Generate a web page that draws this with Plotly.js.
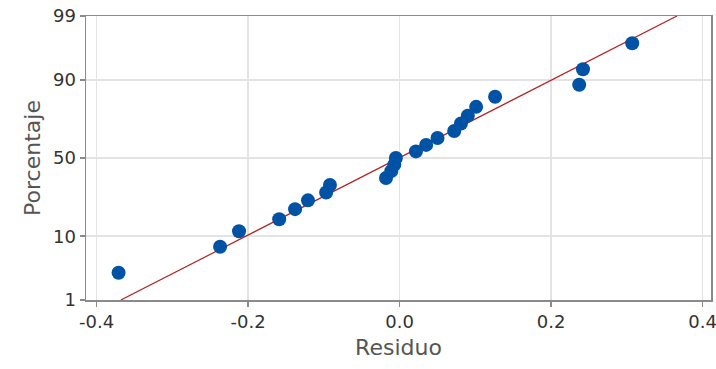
<!DOCTYPE html>
<html>
<head>
<meta charset="utf-8">
<script src="https://cdn.plot.ly/plotly-3.0.1.min.js"></script>
<style>html,body{margin:0;padding:0;background:#fff}#chart{width:716px;height:369px}</style>
</head>
<body>
<div id="chart"></div>
<script>
// Residuals (sorted) and their plotted percentages
const residuo = [-0.371, -0.237, -0.212, -0.159, -0.138, -0.121, -0.097, -0.092,
  -0.018, -0.011, -0.007, -0.005,
  0.0215, 0.035, 0.050, 0.072, 0.081, 0.090, 0.101, 0.126, 0.237, 0.242, 0.307];
const porcentaje = [3.0, 7.3, 11.5, 15.8, 20.1, 24.4, 28.6, 32.9, 37.2, 41.5, 45.7, 50.0,
  54.3, 58.5, 62.8, 67.1, 71.4, 75.6, 79.9, 84.2, 88.5, 92.7, 97.0];
// Fitted reference line end points
const fitResiduo = [-0.368, 0.366];
const fitPorcentaje = [1, 99];
// Tick labels
const yTicks = [1, 10, 50, 90, 99];
const xTicks = [-0.4, -0.2, 0.0, 0.2, 0.4];
const xTickText = ['-0.4', '-0.2', '0.0', '0.2', '0.4'];

// inverse standard normal CDF (probability-scale axis)
function probit(p) {
  const a = [-3.969683028665376e+01, 2.209460984245205e+02, -2.759285104469687e+02, 1.383577518672690e+02, -3.066479806614716e+01, 2.506628277459239e+00];
  const b = [-5.447609879822406e+01, 1.615858368580409e+02, -1.556989798598866e+02, 6.680131188771972e+01, -1.328068155288572e+01];
  const c = [-7.784894002430293e-03, -3.223964580411365e-01, -2.400758277161838e+00, -2.549732539343734e+00, 4.374664141464968e+00, 2.938163982698783e+00];
  const d = [7.784695709041462e-03, 3.224671290700398e-01, 2.445134137142996e+00, 3.754408661907416e+00];
  const pl = 0.02425, ph = 1 - pl;
  let q, r;
  if (p < pl) { q = Math.sqrt(-2 * Math.log(p));
    return (((((c[0]*q+c[1])*q+c[2])*q+c[3])*q+c[4])*q+c[5]) / ((((d[0]*q+d[1])*q+d[2])*q+d[3])*q+1); }
  if (p <= ph) { q = p - 0.5; r = q*q;
    return (((((a[0]*r+a[1])*r+a[2])*r+a[3])*r+a[4])*r+a[5])*q / (((((b[0]*r+b[1])*r+b[2])*r+b[3])*r+b[4])*r+1); }
  q = Math.sqrt(-2 * Math.log(1 - p));
  return -(((((c[0]*q+c[1])*q+c[2])*q+c[3])*q+c[4])*q+c[5]) / ((((d[0]*q+d[1])*q+d[2])*q+d[3])*q+1);
}
const z = v => probit(v / 100);

const font = "DejaVu Sans, Open Sans, sans-serif";
const traces = [
  { x: fitResiduo, y: fitPorcentaje.map(z), mode: 'lines', type: 'scatter',
    line: { color: '#b22222', width: 1.2 }, hoverinfo: 'skip' },
  { x: residuo, y: porcentaje.map(z), mode: 'markers', type: 'scatter',
    customdata: porcentaje, hovertemplate: '%{x}, %{customdata}%<extra></extra>',
    marker: { color: '#0052a5', size: 14, line: { width: 0 } } }
];
const layout = {
  width: 716, height: 369,
  margin: { l: 86, r: 5, t: 16, b: 69 },
  paper_bgcolor: '#ffffff', plot_bgcolor: '#ffffff',
  showlegend: false,
  font: { family: font, color: '#333333' },
  xaxis: {
    range: [-0.414, 0.411], tickvals: xTicks, ticktext: xTickText,
    ticklabeloverflow: 'allow',
    showgrid: true, gridcolor: '#e3e3e3', gridwidth: 1.5, zeroline: false,
    showline: true, linecolor: '#8a8a8a', linewidth: 1.5, mirror: true,
    ticks: 'outside', ticklen: 5, tickcolor: '#8a8a8a', tickwidth: 1.5,
    tickfont: { size: 18, family: font, color: '#333333' },
    title: { text: 'Residuo', font: { size: 22, family: font, color: '#555555' }, standoff: 8 }
  },
  yaxis: {
    range: [z(1), z(99)], tickvals: yTicks.map(z), ticktext: yTicks.map(String),
    showgrid: true, gridcolor: '#e3e3e3', gridwidth: 1.5, zeroline: false,
    showline: true, linecolor: '#8a8a8a', linewidth: 1.5, mirror: true,
    ticks: 'outside', ticklen: 5, tickcolor: '#8a8a8a', tickwidth: 1.5,
    tickfont: { size: 18, family: font, color: '#333333' },
    title: { text: 'Porcentaje', font: { size: 22, family: font, color: '#555555' }, standoff: 6 }
  }
};
Plotly.newPlot('chart', traces, layout, { displayModeBar: false, staticPlot: true });
</script>
</body>
</html>
